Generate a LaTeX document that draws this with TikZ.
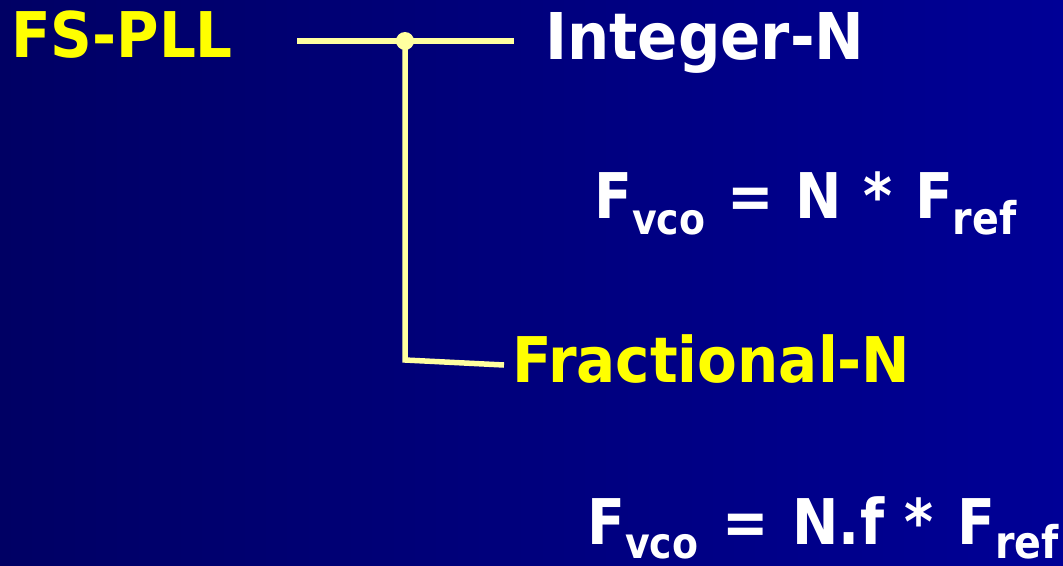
\documentclass[tikz,border=0pt]{standalone}
\usepackage{fontspec}
\setmainfont{DejaVu Sans}[FakeStretch=0.92]
\newfontfamily\frmfont{DejaVu Sans}[FakeStretch=0.88]
\definecolor{bgL}{RGB}{0,0,100}
\definecolor{bgR}{RGB}{0,0,150}
\definecolor{txtY}{RGB}{255,255,0}
\definecolor{lineY}{RGB}{255,255,160}
\tikzset{
  big/.style={anchor=base west, inner sep=0pt, font=\fontsize{63}{70}\selectfont\bfseries},
  frm/.style={anchor=base west, inner sep=0pt, font=\frmfont\fontsize{63}{70}\selectfont\bfseries},
  conn/.style={draw=lineY, line width=5.5pt},
}
\newcommand{\sbs}[3]{\raisebox{-#1pt}{\fontsize{#2}{#2}\selectfont #3}}
\newcommand{\gap}{\hspace{22pt}}
\newcommand{\gapb}{\hspace{24pt}}
\begin{document}
\begin{tikzpicture}[x=1pt,y=-1pt]
\shade[left color=bgL,right color=bgR] (0,0) rectangle (1063,565);
\useasboundingbox (0,0) rectangle (1063,565);
\node[big, txtY] (fspll) at (11,57) {FS-PLL};
\node[big, white] (intn) at (545,59) {\fontsize{64.5}{70}\selectfont Integer-N};
\node[frm, white] (f1) at (594,218) {F\sbs{16}{43}{vco}\gap=\gap N\gap*\gap F\sbs{16}{45}{ref}};
\node[big, txtY] (fracn) at (512,382) {Fractional-N};
\node[frm, white] (f2) at (587,544) {F\sbs{14}{43}{vco}\gapb=\gapb N.f\hspace{20pt}*\gapb F\sbs{14}{45}{ref}};
\coordinate (hl) at (297,41);
\coordinate (hr) at (514,41);
\coordinate (corner) at (405,360);
\coordinate (fe) at (504,365);
\draw[conn] (hl) -- (hr);
\node[circle, fill=lineY, inner sep=0pt, minimum size=18pt] (dot) at (405,41) {};
\draw[conn] (dot.center) -- (corner) -- (fe);
\end{tikzpicture}
\end{document}
